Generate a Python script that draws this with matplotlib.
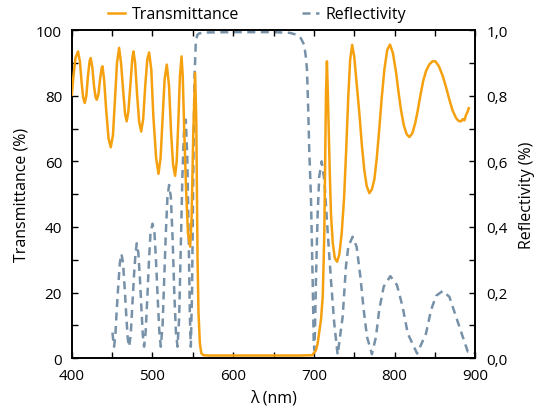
import matplotlib
matplotlib.use("Agg")
import matplotlib.pyplot as plt
from matplotlib.ticker import MultipleLocator, FuncFormatter

# Dati
wl_T = [400, 402, 404.5, 407.7, 410, 412, 414, 416, 418, 420, 422, 423.4, 425.5, 427.5, 429.5, 431,
        433, 435, 437, 438, 440, 442.5, 445.5, 448.3, 451, 453.5, 456, 458.6, 461, 463.5, 466, 468,
        470, 472.5, 475, 476.4, 478.5, 481, 483.5, 486, 488.5, 491, 493.5, 495.8, 498.5, 501, 504.5,
        507.4, 510, 512.5, 515, 517.7, 520.5, 523, 525.5, 528, 530, 532, 534, 536, 537.5, 539.5,
        541.7, 544, 546.7, 548.5, 550.5, 552.8, 554.3, 555.8, 557, 558.7, 560.5, 563, 570, 620,
        680, 698, 702.6, 704.7, 708.8, 711, 712.2, 713, 714, 715, 716.2, 717.2, 718.4, 719.8, 721.2,
        723.5, 726, 728.7, 731.5, 734.5, 737.5, 740, 742.7, 745, 747.5, 750, 753, 756.4, 759.5,
        762.5, 765.5, 768.8, 772, 775, 778, 781, 784, 787.4, 791, 794.4, 798, 802, 805, 808,
        811.5, 815, 818.4, 822, 825.5, 828.8, 832, 835.5, 839, 843, 847, 850.6, 855, 859.8, 864,
        868, 872, 876.3, 879.5, 882.5, 884.5, 886.6, 888.7, 890.5, 892]
transmittance = [80.3, 86, 91.5, 93.5, 90.5, 84.5, 79.5, 77.8, 80, 86, 90.5, 91.5, 88.5, 83, 79.5, 78.8,
                 80.5, 85, 88.5, 89, 85, 76, 67, 64.3, 68, 79, 90, 94.6, 90, 82, 74.5, 72.2,
                 75, 83, 91.5, 93.5, 90, 80, 72, 69.1, 73, 83, 91, 93.2, 88, 74, 61,
                 56.2, 61, 73, 85, 89.5, 83, 69, 59, 55.6, 60, 72, 86, 92, 86, 68,
                 51, 38, 34, 43, 68, 87, 72, 31, 14, 4.6, 1.5, 0.9, 0.8, 0.8,
                 0.8, 0.9, 2.4, 4.5, 11.6, 18.7, 30, 39, 60, 80, 90.5, 82, 70, 56, 44,
                 35, 30.5, 29.4, 31.5, 38, 49, 63, 79.8, 91, 95.5, 92, 84, 74.7, 65,
                 57.4, 52.5, 50.3, 51.5, 54.5, 61, 69.6, 79, 88, 94, 95.6, 93, 87, 81, 75.7,
                 71, 68.3, 67.4, 68.5, 71.5, 75.5, 80, 84.5, 87.5, 89.5, 90.5, 90.5, 89, 86, 82.5,
                 78.8, 75.5, 73.2, 72.3, 72.2, 72.9, 72.5, 74.2, 75.1, 76.2]

wl_R = [450.4, 451.5, 452.4, 454, 455.5, 457.3, 459.5, 461.5, 463.5, 465.6, 467.5, 469.3, 471,
        473, 475, 477, 479, 480.5, 482.5, 484.5, 486.5, 488, 489.6, 491.5, 493.5, 495.5, 497.5,
        500, 502.5, 504.5, 506.5, 508.5, 510.3, 512.5, 514.5, 516.5, 518.5, 520.6, 522.8, 525,
        527, 529, 531, 533, 535, 537, 539, 541.3, 543, 544.8, 546.3, 547.5, 549, 550.5, 552,
        553.7, 555.5, 557.8, 565, 600, 650, 670, 680, 684, 686, 688, 690, 691.5, 693, 694.3,
        696.4, 697.6, 698.9, 699.8, 700.5, 701.4, 702.6, 704.7, 706.7, 709.7, 713, 717, 721.2,
        725.3, 729.5, 735.7, 739.8, 742.7, 748, 753, 757.6, 761.8, 765.9, 772, 777, 781, 786.6,
        794.8, 803, 810, 816.4, 828, 839, 845.3, 851.5, 859.8, 868, 876.3, 884.6, 890.8, 899]
reflectivity = [0.078, 0.05, 0.035, 0.07, 0.14, 0.21, 0.29, 0.318, 0.29, 0.21, 0.13, 0.06, 0.035,
                0.07, 0.16, 0.25, 0.32, 0.35, 0.32, 0.24, 0.14, 0.07, 0.035, 0.08, 0.18, 0.29, 0.38,
                0.41, 0.38, 0.29, 0.18, 0.08, 0.035, 0.1, 0.24, 0.38, 0.49, 0.528, 0.49, 0.36,
                0.2, 0.08, 0.035, 0.12, 0.33, 0.55, 0.69, 0.727, 0.62, 0.38, 0.13, 0.035, 0.2, 0.55, 0.85,
                0.965, 0.985, 0.99, 0.993, 0.994, 0.994, 0.992, 0.985, 0.975, 0.965, 0.955, 0.92, 0.88, 0.76, 0.635,
                0.49, 0.35, 0.19, 0.05, 0.025, 0.085, 0.24, 0.44, 0.554, 0.6, 0.543, 0.39, 0.238,
                0.106, 0.01, 0.126, 0.28, 0.34, 0.37, 0.34, 0.25, 0.147, 0.065, 0.012, 0.065, 0.147, 0.218,
                0.25, 0.223, 0.157, 0.075, 0.014, 0.075, 0.147, 0.19, 0.205, 0.187, 0.126, 0.065, 0.02, 0.016]

plt.rcParams.update({
    "font.family": ["Open Sans", "DejaVu Sans"],
    "font.size": 11,
    "axes.linewidth": 1.2,
})

col_T = '#F5A00F'   # arancione
col_R = '#7691A8'   # grigio-blu

fig = plt.figure(figsize=(5.4, 4.1), dpi=100)
ax1 = fig.add_axes([0.133, 0.124, 0.747, 0.80])
ax2 = ax1.twinx()

l1, = ax1.plot(wl_T, transmittance, color=col_T, lw=1.8, label="Transmittance", zorder=3)
l2, = ax2.plot(wl_R, reflectivity, color=col_R, lw=1.8, linestyle=(0, (3.2, 2.2)), label="Reflectivity")
ax1.set_zorder(ax2.get_zorder() + 1)
ax1.patch.set_visible(False)

ax1.set_xlim(400, 900)
ax1.set_ylim(0, 100)
ax2.set_ylim(0, 1.0)

ax1.xaxis.set_major_locator(MultipleLocator(100))
ax1.xaxis.set_minor_locator(MultipleLocator(50))
ax1.yaxis.set_major_locator(MultipleLocator(20))
ax1.yaxis.set_minor_locator(MultipleLocator(10))
ax2.yaxis.set_major_locator(MultipleLocator(0.2))
ax2.yaxis.set_minor_locator(MultipleLocator(0.1))
ax2.yaxis.set_major_formatter(FuncFormatter(lambda v, p: f"{v:.1f}".replace(".", ",")))

ax1.tick_params(axis='x', which='both', direction='in', top=True, length=4, width=1, pad=7)
ax1.tick_params(axis='y', which='both', direction='in', left=True, right=False, length=4, width=1, pad=7)
ax2.tick_params(axis='y', which='both', direction='in', length=4, width=1, pad=8)

ax1.set_xlabel("λ (nm)", fontsize=11.5, labelpad=5)
ax1.set_ylabel("Transmittance (%)", fontsize=11.5, labelpad=5)
ax2.set_ylabel("Reflectivity (%)", fontsize=11.5, labelpad=8)

ax1.legend([l1, l2], ["Transmittance", "Reflectivity"], loc='lower center',
           bbox_to_anchor=(0.46, 1.005), ncol=2, frameon=False, handlelength=1.05,
           handletextpad=0.45, columnspacing=3.9, borderaxespad=0, fontsize=11.5)

fig.savefig("out.png", dpi=100)
